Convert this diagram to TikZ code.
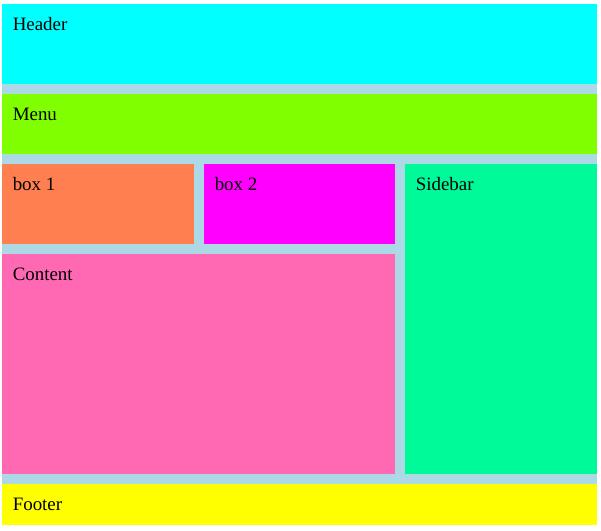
\documentclass[tikz,border=0pt]{standalone}
\usepackage{fontspec}
\setmainfont{Liberation Serif}
\definecolor{gapblue}{HTML}{ADD8E6}
\definecolor{headcol}{HTML}{00FFFF}
\definecolor{menucol}{HTML}{7FFF00}
\definecolor{boxone}{HTML}{FF7F50}
\definecolor{boxtwo}{HTML}{FF00FF}
\definecolor{contentcol}{HTML}{FF69B4}
\definecolor{sidecol}{HTML}{00FA9A}
\definecolor{footcol}{HTML}{FFFF00}
\begin{document}
\begin{tikzpicture}[x=0.75pt,y=-0.75pt,
  lbl/.style={anchor=base west,inner sep=0pt,font=\fontsize{14.2}{17}\selectfont}]
% page and grid background
\fill[white] (0,0) rectangle (601,531);
\useasboundingbox (0,0) rectangle (601,531);
\fill[gapblue] (2,4) rectangle (597,525);
% grid areas: name, colour, x, y, width, height, label
\foreach \n/\c/\x/\y/\w/\h/\t in {
  header/headcol/2/4/595/80/Header,
  menu/menucol/2/94/595/60/Menu,
  boxa/boxone/2/164/192/80/box 1,
  boxb/boxtwo/204/164/191/80/box 2,
  content/contentcol/2/254/393/220/Content,
  sidebar/sidecol/405/164/192/310/Sidebar,
  footer/footcol/2/484/595/41/Footer}{
  \fill[\c] (\x,\y) rectangle ++(\w,\h);
  \node[lbl] (\n) at (\x+10.5,\y+27) {\t};
}
\end{tikzpicture}
\end{document}
